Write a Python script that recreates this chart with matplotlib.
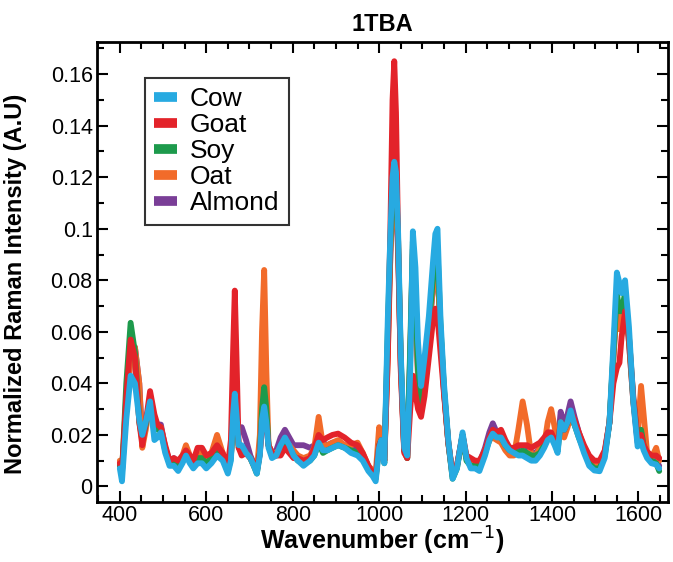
import matplotlib
matplotlib.use("Agg")
import matplotlib.pyplot as plt
from matplotlib.ticker import MultipleLocator

plt.rcParams['font.family'] = ['Liberation Sans', 'DejaVu Sans']

wavenumber = [
    400, 405, 415, 425, 435, 445, 452, 460, 470, 480,
    487, 495, 505, 515, 525, 535, 545, 553, 562, 570,
    580, 590, 600, 612, 625, 638, 650, 657, 662, 666,
    670, 675, 682, 692, 702, 710, 717, 724, 729, 734,
    739, 744, 752, 762, 772, 782, 792, 802, 812, 825,
    840, 850, 860, 870, 880, 892, 905, 920, 935, 950,
    962, 975, 985, 992, 1000, 1005, 1012, 1020, 1026, 1031,
    1035, 1039, 1044, 1050, 1058, 1065, 1072, 1078, 1084, 1090,
    1097, 1105, 1115, 1125, 1130, 1135, 1142, 1150, 1160, 1170,
    1180, 1193, 1202, 1212, 1222, 1232, 1245, 1255, 1263, 1272,
    1282, 1292, 1302, 1312, 1322, 1332, 1342, 1352, 1362, 1372,
    1382, 1390, 1398, 1406, 1413, 1420, 1428, 1436, 1443, 1452,
    1462, 1474, 1486, 1498, 1510, 1522, 1533, 1542, 1550, 1556,
    1561, 1569, 1578, 1588, 1598, 1606, 1612, 1620, 1630, 1641,
    1648,
]

cow = [
    0.007, 0.002, 0.026, 0.043, 0.040, 0.026, 0.020, 0.025, 0.033, 0.018,
    0.019, 0.021, 0.013, 0.008, 0.008, 0.006, 0.009, 0.012, 0.009, 0.007,
    0.009, 0.009, 0.007, 0.009, 0.012, 0.010, 0.005, 0.010, 0.028, 0.036,
    0.028, 0.016, 0.016, 0.013, 0.011, 0.008, 0.005, 0.012, 0.026, 0.031,
    0.025, 0.015, 0.011, 0.012, 0.016, 0.019, 0.016, 0.012, 0.010, 0.008,
    0.010, 0.012, 0.017, 0.014, 0.014, 0.015, 0.016, 0.015, 0.013, 0.012,
    0.010, 0.006, 0.004, 0.002, 0.015, 0.018, 0.009, 0.065, 0.098, 0.120,
    0.126, 0.122, 0.098, 0.052, 0.015, 0.012, 0.045, 0.099, 0.085, 0.056,
    0.039, 0.050, 0.066, 0.088, 0.098, 0.100, 0.065, 0.040, 0.018, 0.003,
    0.007, 0.021, 0.011, 0.007, 0.007, 0.006, 0.012, 0.018, 0.0205, 0.019,
    0.019, 0.016, 0.014, 0.013, 0.012, 0.012, 0.011, 0.010, 0.010, 0.012,
    0.015, 0.018, 0.019, 0.016, 0.013, 0.025, 0.022, 0.025, 0.0295, 0.024,
    0.019, 0.013, 0.008, 0.0062, 0.0059, 0.011, 0.025, 0.055, 0.083, 0.079,
    0.075, 0.080, 0.062, 0.033, 0.0155, 0.0175, 0.014, 0.011, 0.009, 0.0085,
    0.007,
]

goat = [
    0.009, 0.006, 0.035, 0.057, 0.050, 0.025, 0.016, 0.025, 0.037, 0.028,
    0.024, 0.023, 0.016, 0.010, 0.011, 0.010, 0.012, 0.014, 0.012, 0.010,
    0.015, 0.015, 0.012, 0.013, 0.016, 0.013, 0.008, 0.018, 0.052, 0.076,
    0.050, 0.015, 0.012, 0.013, 0.011, 0.009, 0.006, 0.013, 0.025, 0.030,
    0.024, 0.016, 0.013, 0.012, 0.012, 0.015, 0.013, 0.011, 0.011, 0.010,
    0.011, 0.015, 0.020, 0.018, 0.019, 0.020, 0.0205, 0.019, 0.017, 0.016,
    0.013, 0.008, 0.005, 0.004, 0.016, 0.018, 0.010, 0.050, 0.100, 0.150,
    0.165, 0.145, 0.095, 0.045, 0.013, 0.011, 0.030, 0.043, 0.036, 0.030,
    0.027, 0.035, 0.050, 0.065, 0.069, 0.066, 0.052, 0.036, 0.017, 0.005,
    0.008, 0.020, 0.012, 0.011, 0.010, 0.010, 0.014, 0.019, 0.022, 0.021,
    0.022, 0.018, 0.015, 0.015, 0.016, 0.016, 0.016, 0.015, 0.016, 0.017,
    0.019, 0.021, 0.021, 0.018, 0.016, 0.025, 0.022, 0.025, 0.029, 0.026,
    0.021, 0.016, 0.012, 0.010, 0.010, 0.014, 0.025, 0.040, 0.046, 0.048,
    0.058, 0.068, 0.058, 0.035, 0.018, 0.020, 0.016, 0.0135, 0.012, 0.012,
    0.011,
]

soy = [
    0.008, 0.005, 0.040, 0.0635, 0.052, 0.025, 0.018, 0.024, 0.033, 0.024,
    0.022, 0.022, 0.014, 0.009, 0.010, 0.008, 0.010, 0.013, 0.011, 0.008,
    0.011, 0.011, 0.009, 0.011, 0.014, 0.011, 0.006, 0.011, 0.028, 0.036,
    0.028, 0.015, 0.015, 0.013, 0.011, 0.008, 0.005, 0.013, 0.030, 0.0385,
    0.030, 0.016, 0.012, 0.012, 0.015, 0.018, 0.015, 0.012, 0.010, 0.009,
    0.010, 0.012, 0.017, 0.013, 0.014, 0.015, 0.016, 0.015, 0.014, 0.013,
    0.011, 0.007, 0.005, 0.003, 0.016, 0.018, 0.009, 0.060, 0.095, 0.115,
    0.122, 0.118, 0.095, 0.050, 0.014, 0.011, 0.055, 0.095, 0.075, 0.045,
    0.033, 0.045, 0.062, 0.082, 0.090, 0.092, 0.062, 0.038, 0.017, 0.003,
    0.007, 0.020, 0.010, 0.008, 0.008, 0.008, 0.013, 0.018, 0.021, 0.020,
    0.019, 0.016, 0.014, 0.014, 0.013, 0.014, 0.013, 0.012, 0.012, 0.013,
    0.016, 0.019, 0.020, 0.017, 0.014, 0.025, 0.022, 0.025, 0.029, 0.024,
    0.019, 0.014, 0.009, 0.007, 0.007, 0.012, 0.025, 0.052, 0.075, 0.068,
    0.068, 0.075, 0.058, 0.034, 0.018, 0.022, 0.016, 0.012, 0.010, 0.009,
    0.006,
]

oat = [
    0.010, 0.007, 0.030, 0.050, 0.054, 0.040, 0.015, 0.022, 0.033, 0.026,
    0.023, 0.023, 0.015, 0.009, 0.010, 0.009, 0.012, 0.016, 0.012, 0.009,
    0.012, 0.013, 0.011, 0.013, 0.020, 0.013, 0.007, 0.012, 0.024, 0.030,
    0.025, 0.016, 0.015, 0.013, 0.011, 0.008, 0.006, 0.020, 0.060, 0.084,
    0.045, 0.016, 0.013, 0.013, 0.015, 0.018, 0.016, 0.014, 0.012, 0.011,
    0.012, 0.015, 0.027, 0.016, 0.016, 0.017, 0.018, 0.016, 0.016, 0.017,
    0.013, 0.008, 0.006, 0.005, 0.023, 0.019, 0.010, 0.050, 0.090, 0.110,
    0.120, 0.115, 0.092, 0.048, 0.014, 0.011, 0.050, 0.090, 0.070, 0.042,
    0.035, 0.045, 0.060, 0.078, 0.085, 0.085, 0.060, 0.037, 0.017, 0.004,
    0.008, 0.019, 0.011, 0.009, 0.009, 0.009, 0.014, 0.018, 0.019, 0.018,
    0.017, 0.014, 0.012, 0.012, 0.022, 0.033, 0.024, 0.012, 0.012, 0.015,
    0.016, 0.025, 0.030, 0.023, 0.017, 0.024, 0.019, 0.023, 0.027, 0.024,
    0.020, 0.015, 0.010, 0.008, 0.008, 0.013, 0.025, 0.050, 0.070, 0.061,
    0.062, 0.072, 0.056, 0.033, 0.020, 0.039, 0.028, 0.013, 0.011, 0.015,
    0.010,
]

almond = [
    0.009, 0.006, 0.030, 0.050, 0.054, 0.040, 0.018, 0.024, 0.034, 0.026,
    0.024, 0.024, 0.015, 0.010, 0.011, 0.009, 0.011, 0.014, 0.011, 0.009,
    0.011, 0.011, 0.009, 0.011, 0.015, 0.011, 0.007, 0.012, 0.025, 0.032,
    0.028, 0.022, 0.023, 0.018, 0.012, 0.009, 0.006, 0.013, 0.025, 0.030,
    0.025, 0.016, 0.013, 0.014, 0.019, 0.022, 0.019, 0.016, 0.016, 0.016,
    0.015, 0.016, 0.019, 0.017, 0.016, 0.017, 0.017, 0.016, 0.015, 0.014,
    0.012, 0.008, 0.006, 0.004, 0.017, 0.018, 0.010, 0.055, 0.090, 0.110,
    0.118, 0.113, 0.090, 0.047, 0.014, 0.011, 0.052, 0.092, 0.072, 0.043,
    0.036, 0.045, 0.060, 0.078, 0.084, 0.084, 0.060, 0.037, 0.017, 0.004,
    0.008, 0.020, 0.011, 0.009, 0.009, 0.009, 0.015, 0.021, 0.0245, 0.021,
    0.020, 0.017, 0.015, 0.014, 0.014, 0.013, 0.014, 0.013, 0.013, 0.015,
    0.017, 0.019, 0.020, 0.018, 0.016, 0.029, 0.024, 0.028, 0.033, 0.027,
    0.021, 0.015, 0.010, 0.008, 0.008, 0.013, 0.025, 0.050, 0.072, 0.065,
    0.065, 0.072, 0.056, 0.033, 0.017, 0.020, 0.015, 0.012, 0.010, 0.010,
    0.008,
]

labels = ["Cow", "Goat", "Soy", "Oat", "Almond"]
series = [cow, goat, soy, oat, almond]
colors = ["#27aae1", "#e3232a", "#1d9a4c", "#f26b2a", "#7a3e97"]

fig = plt.figure(figsize=(6.73, 5.62), dpi=100)
ax = fig.add_axes([0.144, 0.106, 0.849, 0.819])

handles = {}
# draw order: Almond first, Cow last (on top)
for lab, ys, col in reversed(list(zip(labels, series, colors))):
    ln, = ax.plot(wavenumber, ys, color=col, lw=4.2, solid_joinstyle='round',
                  solid_capstyle='round', label=lab)
    handles[lab] = ln

ax.set_xlim(347, 1669)
ax.set_ylim(-0.0062, 0.1724)
ax.xaxis.set_major_locator(MultipleLocator(200))
ax.xaxis.set_minor_locator(MultipleLocator(50))
ax.yaxis.set_major_locator(MultipleLocator(0.02))
ax.yaxis.set_minor_locator(MultipleLocator(0.01))
ax.set_yticks([0, 0.02, 0.04, 0.06, 0.08, 0.1, 0.12, 0.14, 0.16])
ax.set_yticklabels(["0", "0.02", "0.04", "0.06", "0.08", "0.1", "0.12", "0.14", "0.16"])
ax.tick_params(which='both', direction='in', top=True, right=True, width=1.5,
               labelsize=15.5)
ax.tick_params(axis='x', pad=2)
ax.tick_params(axis='y', pad=3)
ax.tick_params(which='major', length=8)
ax.tick_params(which='minor', length=5)
for s in ax.spines.values():
    s.set_linewidth(2)

ax.set_xlabel("Wavenumber (cm$^{-1}$)", fontsize=18, fontweight='bold', labelpad=-1)
ax.set_ylabel("Normalized Raman Intensity (A.U)", fontsize=17, fontweight='bold')
ax.yaxis.set_label_coords(-0.123, 0.474)
ax.set_title("1TBA", fontsize=17, fontweight='bold', pad=8)

leg = ax.legend([handles[l] for l in labels], labels, loc='upper left',
                bbox_to_anchor=(0.084, 0.923), borderaxespad=0, fontsize=19,
                frameon=True, fancybox=False, handlelength=0.85, handletextpad=0.5,
                labelspacing=0.08, borderpad=0.35)
leg.get_frame().set_edgecolor('black')
leg.get_frame().set_linewidth(1.5)
for lh in leg.get_lines():
    lh.set_linewidth(7)
    lh.set_solid_capstyle('butt')

fig.savefig("out.png", dpi=100)
